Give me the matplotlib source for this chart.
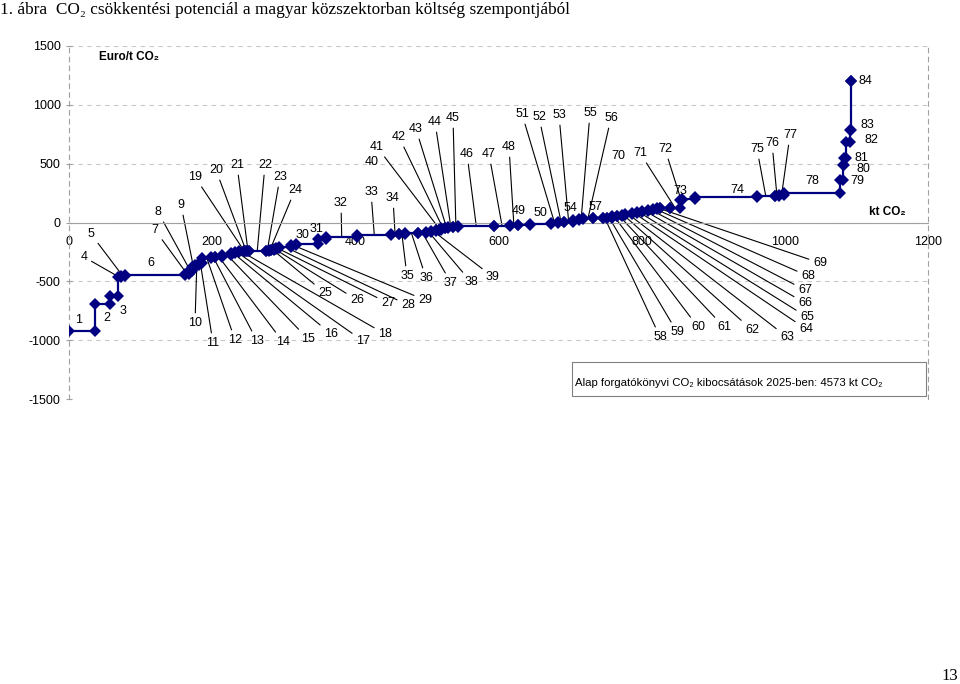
import matplotlib
matplotlib.use("Agg")
import matplotlib.pyplot as plt
from matplotlib.patches import Rectangle
import numpy as np

# intézkedések: sorszám, potenciál (kt CO2), költség (Euro/t CO2)
measures = list(range(1, 85))
potential = [36, 21, 12, 4, 5, 84, 6, 4, 4, 5,
             5, 13, 5, 10, 13, 5, 5, 7, 2, 3,
             2, 24, 4, 3, 5, 2, 5, 16, 7, 31,
             11, 44, 47, 11, 8, 19, 11, 7, 7, 4,
             3, 5, 5, 7, 7, 50, 22, 11, 17, 30,
             9, 9, 12, 9, 5, 14, 14, 5, 7, 7,
             7, 5, 9, 7, 7, 9, 7, 5, 5, 13,
             15, 2, 18, 87, 25, 6, 7, 78, 4, 1,
             4, 5, 1, 1]
cost = [-925, -690, -628, -467, -458, -444, -438, -416, -382, -365,
        -345, -302, -294, -289, -274, -260, -251, -246, -244, -243,
        -241, -240, -238, -236, -232, -228, -219, -208, -194, -183,
        -138, -127, -109, -100, -96, -92, -86, -81, -76, -66,
        -62, -49, -45, -41, -35, -33, -28, -24, -20, -15,
        -7, 2, 8, 23, 31, 36, 37, 38, 42, 51,
        57, 65, 71, 80, 88, 99, 108, 116, 122, 124,
        126, 193, 199, 216, 221, 227, 235, 250, 357, 490,
        552, 688, 787, 1205]

x_ticks = [0, 200, 400, 600, 800, 1000, 1200]
y_ticks = [-1500, -1000, -500, 0, 500, 1000, 1500]

title = "1. ábra  CO\u2082 csökkentési potenciál a magyar közszektorban költség szempontjából"
box_text = "Alap forgatókönyvi CO\u2082 kibocsátások 2025-ben: 4573 kt CO\u2082"

# címkék helye (pixel, bal felső saroktól)
lab_x = [79, 107, 123, 84, 91, 151, 155, 158, 181, 195,
         213, 235, 257, 283, 308, 331, 363, 385, 195, 216,
         237, 265, 280, 295, 325, 357, 388, 408, 425, 302,
         316, 341, 371, 393, 407, 426, 451, 471, 493, 372,
         377, 399, 416, 435, 453, 467, 489, 509, 519, 540,
         522, 539, 559, 570, 590, 611, 595, 660, 677, 698,
         724, 752, 787, 806, 807, 805, 805, 808, 820, 618,
         640, 665, 680, 737, 757, 772, 790, 812, 857, 863,
         861, 871, 867, 865]
lab_y = [320, 318, 311, 257, 234, 263, 230, 212, 205, 323,
         343, 340, 341, 342, 339, 334, 341, 334, 177, 170,
         165, 165, 177, 190, 293, 300, 303, 305, 300, 235,
         229, 203, 192, 198, 276, 278, 283, 282, 277, 162,
         147, 137, 129, 122, 118, 154, 154, 147, 211, 213,
         114, 117, 115, 208, 113, 118, 207, 337, 332, 327,
         327, 330, 337, 329, 317, 303, 290, 276, 263, 156,
         153, 149, 191, 190, 149, 143, 135, 181, 181, 169,
         158, 140, 125, 81]
no_leader = {1, 2, 3, 6, 30, 31, 40, 49, 50, 54, 57, 70, 73, 74,
             78, 79, 80, 81, 82, 83, 84}

W, H = 960, 684
sans = ["Liberation Sans", "DejaVu Sans"]
plt.rcParams["font.family"] = sans
plt.rcParams["axes.unicode_minus"] = False

fig = plt.figure(figsize=(W / 100, H / 100), dpi=100)
ax = fig.add_axes([69 / W, 1 - 399 / H, (928 - 69) / W, (399 - 46) / H])

ends = np.cumsum(potential)
starts = ends - np.array(potential)
xs = np.column_stack([starts, ends]).ravel()
ys = np.repeat(cost, 2)
ax.plot(xs, ys, color="#000080", lw=1.6, marker="D", ms=6.5,
        markeredgewidth=0, zorder=3)

ax.set_xlim(0, 1200)
ax.set_ylim(-1500, 1500)
ax.set_yticks(y_ticks)
ax.set_xticks(x_ticks)
ax.yaxis.grid(True, linestyle=(0, (4, 4)), color="#c8c8c8", lw=0.8)

ax.spines["top"].set_visible(False)
ax.spines["bottom"].set_position(("data", 0))
ax.spines["bottom"].set_color("#a0a0a0")
for s in ("left", "right"):
    ax.spines[s].set_linestyle((0, (4, 4)))
    ax.spines[s].set_color("#a0a0a0")
    ax.spines[s].set_linewidth(0.8)
ax.tick_params(axis="x", length=0, pad=10, labelsize=9)
ax.tick_params(axis="y", length=4, direction="inout", color="#a0a0a0",
               labelsize=9, pad=4)

# számcímkék vezetővonalakkal
for i, m in enumerate(measures):
    pos = (lab_x[i], H - lab_y[i])
    if m in no_leader:
        ax.annotate(str(m), xy=pos, xycoords="figure pixels",
                    ha="center", va="center", fontsize=9, zorder=4)
    else:
        ax.annotate(str(m), xy=((starts[i] + ends[i]) / 2, cost[i]),
                    xytext=pos, textcoords="figure pixels",
                    ha="center", va="center", fontsize=9, zorder=2,
                    arrowprops=dict(arrowstyle="-", color="black", lw=0.8,
                                    shrinkA=1, shrinkB=0))

fig.text(99 / W, 1 - 57 / H, "Euro/t CO\u2082", fontsize=8.5,
         fontweight="bold", ha="left", va="center")
fig.text(906 / W, 1 - 212 / H, "kt CO\u2082", fontsize=8.5,
         fontweight="bold", ha="right", va="center")

fig.text(0.0, 1 - 10 / H, title, fontsize=12.4,
         family=["Liberation Serif", "DejaVu Serif"], ha="left", va="center")
fig.text(958 / W, 1 - 676 / H, "13", fontsize=12,
         family=["Liberation Serif", "DejaVu Serif"], ha="right", va="center")

fig.patches.append(Rectangle((572 / W, 1 - 396 / H), (926 - 572) / W,
                             (396 - 362) / H, transform=fig.transFigure,
                             fill=False, edgecolor="#808080", lw=0.8))
fig.text(575 / W, 1 - 383 / H, box_text, fontsize=8.2,
         family=sans, ha="left", va="center")

fig.savefig("out.png", dpi=100)
